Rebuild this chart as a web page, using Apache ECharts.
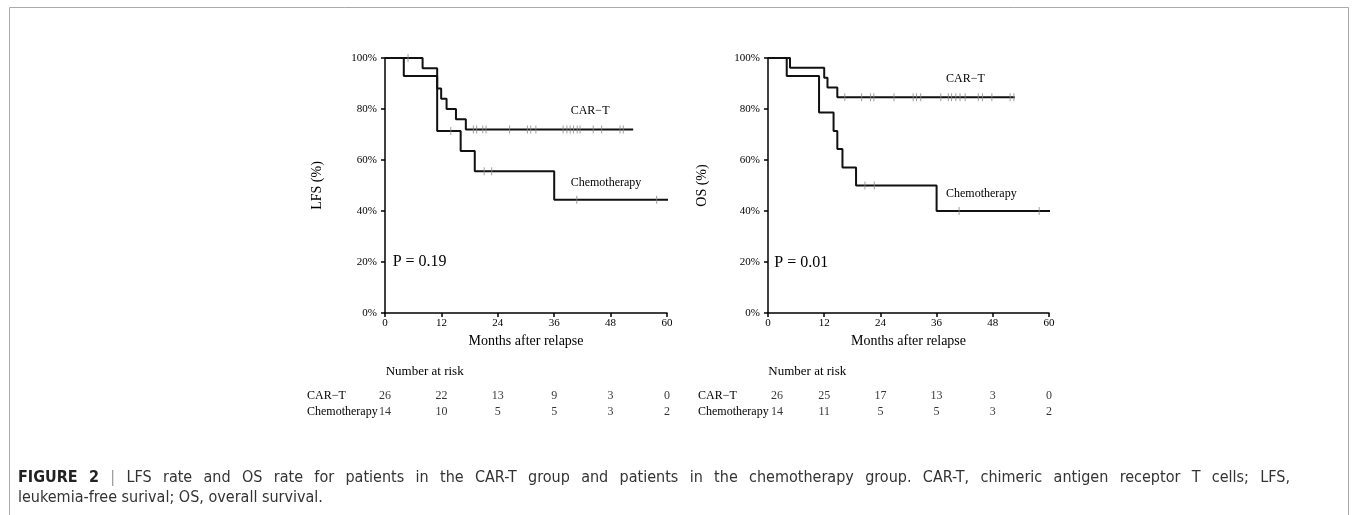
<!DOCTYPE html>
<html><head><meta charset="utf-8">
<script src="https://cdn.jsdelivr.net/npm/echarts@6/dist/echarts.min.js"></script>
<style>html,body{margin:0;padding:0;background:#fff}#c{width:1357px;height:515px}</style>
</head><body><div id="c"></div>
<script>
// ---- data ----
const riskMonths = [0, 12, 24, 36, 48, 60];
const groups = ['CAR\u2212T', 'Chemotherapy'];

// LFS (left panel) : [month, survival %] at each event
const lfsCarT = [[0,100],[8.0,96],[11.1,88],[11.95,84],[13.1,80],[15.1,76],[17.2,72],[52.8,72]];
const lfsChemo = [[0,100],[4.0,92.9],[11.1,71.4],[16.1,63.5],[19.1,55.6],[36.0,44.4],[60.4,44.4]];
const lfsCarTCensor = [4.9,18.8,19.5,20.8,21.5,26.5,30.3,31.0,32.1,37.9,38.7,39.4,40.1,40.9,41.5,44.3,46.1,50.0,50.7];
const lfsChemoCensor = [14.0,21.1,22.7,40.8,57.8];
const lfsRiskCarT = [26,22,13,9,3,0];
const lfsRiskChemo = [14,10,5,5,3,2];

// OS (right panel)
const osCarT = [[0,100],[4.7,96.2],[12.0,92.3],[12.7,88.4],[14.8,84.6],[52.7,84.6]];
const osChemo = [[0,100],[4.0,92.9],[10.9,78.6],[14.0,71.4],[14.8,64.3],[15.9,57.1],[18.8,50],[36.0,40],[60.6,40]];
const osCarTCensor = [16.4,20.0,21.9,22.6,26.9,31.0,31.7,32.6,36.9,38.5,39.2,40.1,41.0,42.1,44.9,45.8,47.8,51.7,52.5];
const osChemoCensor = [20.7,22.7,40.8,57.9];
const osRiskCarT = [26,25,17,13,3,0];
const osRiskChemo = [14,11,5,5,3,2];

const captionLine1 = 'FIGURE 2 | LFS rate and OS rate for patients in the CAR-T group and patients in the chemotherapy group. CAR-T, chimeric antigen receptor T cells; LFS,';
const captionLine2 = 'leukemia-free surival; OS, overall survival.';

// ---- helpers ----
function survAt(curve, t){ let s = curve[0][1]; for (const p of curve){ if (p[0] <= t) s = p[1]; } return s; }
const SERIF = '"Liberation Serif","Times New Roman",serif';
const CAPFONT = '"Liberation Sans Narrow","DejaVu Sans Condensed",sans-serif';
const CAPSIZE = 16;

function mainX(){
  return {type:'value', min:0, max:60, interval:12,
    axisLine:{lineStyle:{color:'#000', width:1.5}},
    axisTick:{length:4, lineStyle:{color:'#000', width:1.5}},
    axisLabel:{color:'#000', fontFamily:SERIF, fontSize:11, margin:5},
    splitLine:{show:false},
    name:'Months after relapse', nameLocation:'middle', nameGap:21,
    nameTextStyle:{color:'#000', fontFamily:SERIF, fontSize:14}};
}
function mainY(name, gap, idx){
  return {type:'value', gridIndex:idx, min:0, max:100, interval:20,
    axisLine:{show:true, lineStyle:{color:'#000', width:1.5}},
    axisTick:{show:true, length:4, lineStyle:{color:'#000', width:1.5}},
    axisLabel:{color:'#000', fontFamily:SERIF, fontSize:11, margin:8, formatter:'{value}%'},
    splitLine:{show:false},
    name:name, nameLocation:'middle', nameGap:gap, nameRotate:90,
    nameTextStyle:{color:'#000', fontFamily:SERIF, fontSize:14}};
}
function riskY(idx, margin){
  return {type:'category', gridIndex:idx, data:groups, inverse:true,
    axisLine:{show:false}, axisTick:{show:false}, splitLine:{show:false},
    axisLabel:{color:'#000', fontFamily:SERIF, fontSize:12, margin:margin, align:'left', interval:0, hideOverlap:false}};
}
function curve(data, ax){
  return {type:'line', step:'end', data:data, xAxisIndex:ax, yAxisIndex:ax, symbol:'none', clip:false,
    lineStyle:{color:'#111', width:2}, silent:true, z:2};
}
function censor(times, c, ax){
  return {type:'scatter', data:times.map(t=>[t, survAt(c,t)]), xAxisIndex:ax, yAxisIndex:ax,
    symbol:'rect', symbolSize:[1,8], itemStyle:{color:'#888'}, silent:true, z:3};
}
function risk(carT, chemo, ax, firstShift){
  const d = [];
  riskMonths.forEach((m,i)=>{
    const lab = (i===0 && firstShift) ? {offset:[firstShift,0]} : undefined;
    d.push(lab ? {value:[m, groups[0], carT[i]], label:lab} : [m, groups[0], carT[i]]);
    d.push(lab ? {value:[m, groups[1], chemo[i]], label:lab} : [m, groups[1], chemo[i]]);
  });
  return {type:'scatter', data:d, xAxisIndex:ax, yAxisIndex:ax, symbolSize:1,
    itemStyle:{color:'rgba(0,0,0,0)'}, silent:true,
    label:{show:true, position:'inside', color:'#000', fontFamily:SERIF, fontSize:12,
      formatter:p=>String(p.value[2])}};
}
function txt(x, y, text, size){
  return {type:'text', x:x, y:y, silent:true,
    style:{text:text, fill:'#000', font: size+'px '+SERIF, textAlign:'left', textVerticalAlign:'middle', align:'left', verticalAlign:'middle'}};
}

// justified first caption line (words spread from x0 to x1)
function captionElems(){
  const cv = document.createElement('canvas').getContext('2d');
  const words = captionLine1.split(' ');
  const fonts = words.map((w,i)=> (i<2 ? 'bold ' : '') + CAPSIZE + 'px ' + CAPFONT);
  const widths = words.map((w,i)=>{ cv.font = fonts[i]; return cv.measureText(w).width; });
  const x0 = 18, x1 = 1290;
  const total = widths.reduce((a,b)=>a+b,0);
  const gap = (x1 - x0 - total) / (words.length - 1);
  const els = [];
  let x = x0;
  words.forEach((w,i)=>{
    els.push({type:'text', x:x, y:478, silent:true,
      style:{text:w, fill: w==='|' ? '#999' : (i<2 ? '#222' : '#333'), font:fonts[i],
        textAlign:'left', textVerticalAlign:'middle', align:'left', verticalAlign:'middle'}});
    x += widths[i] + gap;
  });
  els.push({type:'text', x:x0, y:498, silent:true,
    style:{text:captionLine2, fill:'#333', font:CAPSIZE+'px '+CAPFONT,
      textAlign:'left', textVerticalAlign:'middle', align:'left', verticalAlign:'middle'}});
  return els;
}

const chart = echarts.init(document.getElementById('c'), null, {renderer:'canvas'});
chart.setOption({
  backgroundColor:'#fff',
  animation:false,
  grid:[
    {left:385, top:58, width:282, height:255},
    {left:768, top:58, width:281, height:255},
    {left:385, top:388.6, width:282, height:30.8},
    {left:768, top:388.6, width:281, height:30.8}
  ],
  xAxis:[
    Object.assign(mainX(), {gridIndex:0}),
    Object.assign(mainX(), {gridIndex:1}),
    {type:'value', gridIndex:2, min:0, max:60, show:false},
    {type:'value', gridIndex:3, min:0, max:60, show:false}
  ],
  yAxis:[
    mainY('LFS (%)', 61, 0),
    mainY('OS (%)', 59, 1),
    riskY(2, 78),
    riskY(3, 70)
  ],
  series:[
    curve(lfsCarT, 0), curve(lfsChemo, 0),
    censor(lfsCarTCensor, lfsCarT, 0), censor(lfsChemoCensor, lfsChemo, 0),
    curve(osCarT, 1), curve(osChemo, 1),
    censor(osCarTCensor, osCarT, 1), censor(osChemoCensor, osChemo, 1),
    risk(lfsRiskCarT, lfsRiskChemo, 2, 0),
    risk(osRiskCarT, osRiskChemo, 3, 9)
  ],
  graphic:[
    {type:'rect', silent:true, shape:{x:9.5, y:7.5, width:1339, height:530}, style:{fill:'none', stroke:'#aaa', lineWidth:1}},
    txt(570.7, 110.7, 'CAR\u2212T', 12),
    txt(570.7, 182.7, 'Chemotherapy', 12),
    txt(392.7, 262, 'P = 0.19', 16),
    txt(946, 79, 'CAR\u2212T', 12),
    txt(946, 194.3, 'Chemotherapy', 12),
    txt(774.3, 262.3, 'P = 0.01', 16),
    txt(385.7, 371.7, 'Number at risk', 13),
    txt(768.3, 371.7, 'Number at risk', 13)
  ].concat(captionElems())
});
</script></body></html>
